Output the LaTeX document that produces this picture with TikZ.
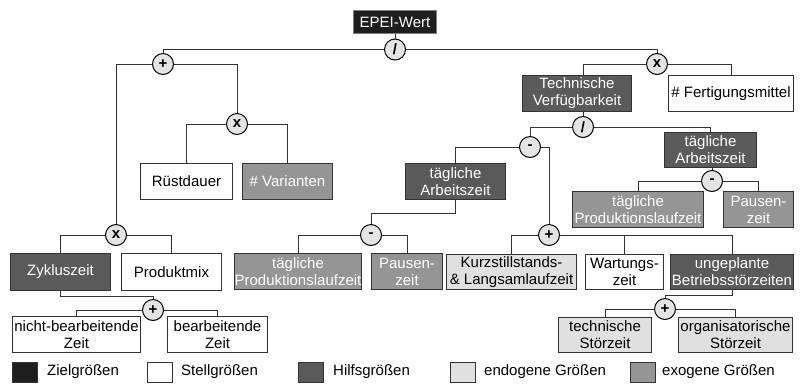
\documentclass[tikz,border=0pt]{standalone}
\usepackage{fontspec}
\setmainfont{Liberation Sans}
\newcommand\boxfont{\fontsize{15}{17}\selectfont}
\definecolor{cZiel}{HTML}{1E1E1E}
\definecolor{cHilf}{HTML}{5A5A5A}
\definecolor{cExo}{HTML}{959595}
\definecolor{cEndo}{HTML}{E0E0E0}
\definecolor{cOp}{HTML}{E4E4E4}
\definecolor{linec}{HTML}{333333}
\tikzset{
  box/.style={draw=linec, line width=1pt, inner sep=0pt, align=center, font=\boxfont, anchor=north west},
  ziel/.style={box, fill=cZiel, text=white, draw=gray},
  hilf/.style={box, fill=cHilf, text=white},
  exo/.style={box, fill=cExo, text=white},
  endo/.style={box, fill=cEndo, text=black},
  stell/.style={box, fill=white, text=black},
  op/.style={circle, draw=black, fill=cOp, minimum size=21pt, inner sep=0pt, line width=1pt, font=\bfseries\boxfont},
  conn/.style={line width=1pt, draw=linec},
  legsq/.style={draw=linec, line width=1pt, minimum width=25pt, minimum height=20pt, inner sep=0pt, anchor=north west},
  legtx/.style={font=\boxfont, anchor=west, inner sep=0pt}
}
\newcommand\bx[7]{\node[#1, minimum width=#5pt-#3pt, minimum height=#6pt-#4pt] (#2) at (#3,#4) {#7};}
\begin{document}
\begin{tikzpicture}[x=1pt,y=-1pt]
\useasboundingbox (0,0) rectangle (802,384);
% boxes
\bx{ziel}{epei}{353}{10}{436}{33}{EPEI-Wert}
\bx{hilf}{tv}{522}{75}{631}{111}{Technische\\Verfügbarkeit}
\bx{stell}{fm}{668}{75}{793}{111}{\# Fertigungsmittel}
\bx{stell}{ruest}{140}{163}{232}{199}{Rüstdauer}
\bx{exo}{var}{242}{163}{332}{199}{\# Varianten}
\bx{hilf}{taz2}{664}{132}{756}{167}{tägliche\\Arbeitszeit}
\bx{exo}{tpl2}{572}{191}{703}{227}{tägliche\\Produktionslaufzeit}
\bx{exo}{pz2}{723}{191}{793}{227}{Pausen-\\zeit}
\bx{hilf}{taz1}{405}{163}{505}{199}{tägliche\\Arbeitszeit}
\bx{exo}{tpl1}{234}{253}{361}{289}{tägliche\\Produktionslaufzeit}
\bx{exo}{pz1}{371}{253}{442}{289}{Pausen-\\zeit}
\bx{hilf}{zykl}{10}{253}{110}{290}{Zykluszeit}
\bx{stell}{prod}{121}{253}{221}{290}{Produktmix}
\bx{endo}{kurz}{446}{254}{576}{289}{Kurzstillstands-\\\& Langsamlaufzeit}
\bx{stell}{wart}{585}{254}{663}{289}{Wartungs-\\zeit}
\bx{hilf}{unge}{670}{254}{793}{289}{ungeplante\\Betriebsstörzeiten}
\bx{stell}{nbz}{12}{316}{140}{352}{nicht-bearbeitende\\Zeit}
\bx{stell}{bz}{167}{316}{267}{352}{bearbeitende\\Zeit}
\bx{endo}{ts}{558}{317}{651}{352}{technische\\Störzeit}
\bx{endo}{os}{678}{317}{792}{352}{organisatorische\\Störzeit}
% operators
\node[op] (div1) at (395,49.5) {/};
\node[op] (plus1) at (163,64) {+};
\node[op] (x3) at (237,124) {x};
\node[op] (x2) at (116,235) {x};
\node[op] (plus4) at (153,310) {+};
\node[op] (x1) at (657,64) {x};
\node[op] (div2) at (583,127) {/};
\node[op] (minus1) at (530,147) {-};
\node[op] (minus2) at (712,181) {-};
\node[op] (minus3) at (371,235) {-};
\node[op] (plus2) at (549,235) {+};
\node[op] (plus3) at (665,309) {+};
% connectors
\begin{scope}[conn]
\draw (epei.south) -- (div1.north);
\draw (div1.west) -| (plus1.north);
\draw (div1.east) -| (x1.north);
\draw (plus1.west) -| (x2.north);
\draw (plus1.east) -| (x3.north);
\draw (x3.west) -| (ruest.north);
\draw (x3.east) -| (var.north);
\draw (x2.west) -| (zykl.north);
\draw (x2.east) -| (prod.north);
\draw (zykl.south) -- ++(0,5) -| (plus4.north);
\draw (plus4.west) -| (nbz.north);
\draw (plus4.east) -| (bz.north);
\draw (x1.west) -| (tv.north -| div2.center);
\draw (x1.east) -| (fm.north);
\draw (tv.south -| div2.center) -- (div2.north);
\draw (div2.west) -| (minus1.north);
\draw (div2.east) -| (taz2.north);
\draw (taz2.south -| minus2.center) -- (minus2.north);
\draw (minus2.west) -| (tpl2.north);
\draw (minus2.east) -| (pz2.north);
\draw (minus1.west) -| (taz1.north);
\draw (minus1.east) -| (plus2.north);
\draw (taz1.south) -- ++(0,13) -| (minus3.north);
\draw (minus3.west) -| (tpl1.north);
\draw (minus3.east) -| (pz1.north);
\draw (plus2.west) -| (kurz.north);
\draw (plus2.east) -| (unge.north);
\draw (wart.north) -- (wart.north |- plus2.east);
\draw (unge.south) -- ++(0,5) -| (plus3.north);
\draw (plus3.west) -| (ts.north);
\draw (plus3.east) -| (os.north);
\end{scope}
% legend
\node[legsq, fill=cZiel] (l1) at (12,362) {};
\node[legtx] (t1) at (47,372) {Zielgrößen};
\node[legsq, fill=white] (l2) at (147,362) {};
\node[legtx] (t2) at (181,372) {Stellgrößen};
\node[legsq, fill=cHilf] (l3) at (298,362) {};
\node[legtx] (t3) at (333,372) {Hilfsgrößen};
\node[legsq, fill=cEndo] (l4) at (450,362) {};
\node[legtx] (t4) at (484,372) {endogene Größen};
\node[legsq, fill=cExo] (l5) at (630,362) {};
\node[legtx] (t5) at (662,372) {exogene Größen};
\end{tikzpicture}
\end{document}
